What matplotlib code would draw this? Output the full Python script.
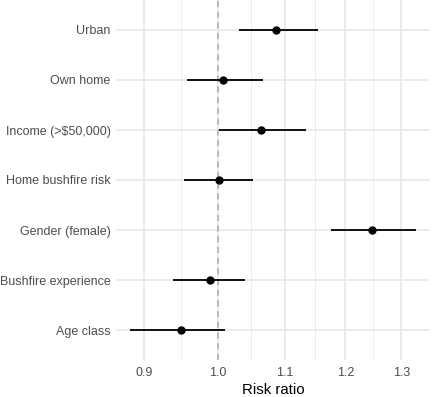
import numpy as np
import matplotlib
matplotlib.use("Agg")
import matplotlib.pyplot as plt
from matplotlib.ticker import FixedLocator, NullFormatter

# Risk ratios with confidence intervals
labels = ["Age class", "Bushfire experience", "Gender (female)",
          "Home bushfire risk", "Income (>$50,000)", "Own home", "Urban"]
estimate = [0.948, 0.989, 1.247, 1.001, 1.063, 1.007, 1.086]
lower = [0.882, 0.938, 1.175, 0.952, 1.002, 0.957, 1.030]
upper = [1.010, 1.039, 1.327, 1.051, 1.134, 1.067, 1.154]

x_ticks = [0.9, 1.0, 1.1, 1.2, 1.3]
x_tick_labels = ["0.9", "1.0", "1.1", "1.2", "1.3"]

plt.rcParams['font.family'] = ['Liberation Sans', 'DejaVu Sans']

W, H, DPI = 432, 397, 100
fig = plt.figure(figsize=(W / DPI, H / DPI), dpi=DPI)
ax = fig.add_axes([116 / W, 37 / H, (430 - 116) / W, 360 / H])

y = np.arange(1, len(labels) + 1)

# log x scale, limits with 5% expansion in log space
lo, hi = np.log(min(lower)), np.log(max(upper))
pad = 0.05 * (hi - lo)
ax.set_xscale("log")
ax.set_xlim(np.exp(lo - pad), np.exp(hi + pad))
ax.set_ylim(0.4, len(labels) + 0.6)

# gridlines (theme_minimal look); minor ones at geometric midpoints
major = np.array(x_ticks)
minor = np.sqrt(major[:-1] * major[1:])
ax.xaxis.set_major_locator(FixedLocator(x_ticks))
ax.set_xticklabels(x_tick_labels)
ax.xaxis.set_minor_locator(FixedLocator(minor))
ax.xaxis.set_minor_formatter(NullFormatter())
ax.set_yticks(y)
ax.set_yticklabels(labels)

for xv in x_ticks:
    ax.axvline(xv, color="#E6E6E6", lw=1.1, zorder=0)
for xv in minor:
    ax.axvline(xv, color="#EBEBEB", lw=0.6, zorder=0)
for yv in y:
    ax.axhline(yv, color="#E6E6E6", lw=1.1, zorder=0)

ax.axvline(1.0, color="#AAAAAA", lw=1.1, ls=(0, (4, 3)), zorder=1)

ax.hlines(y, lower, upper, color="black", lw=1.3, zorder=2)
ax.plot(estimate, y, "o", color="black", ms=5, zorder=3)

for s in ax.spines.values():
    s.set_visible(False)
ax.tick_params(axis="both", which="both", length=0)
ax.tick_params(axis="x", labelsize=9.0, labelcolor="#4D4D4D", pad=5)
ax.tick_params(axis="y", labelsize=9.0, labelcolor="#4D4D4D", pad=4)
ax.set_xlabel("Risk ratio", fontsize=10.8, color="black", labelpad=3)

fig.savefig("out.png", dpi=DPI)
